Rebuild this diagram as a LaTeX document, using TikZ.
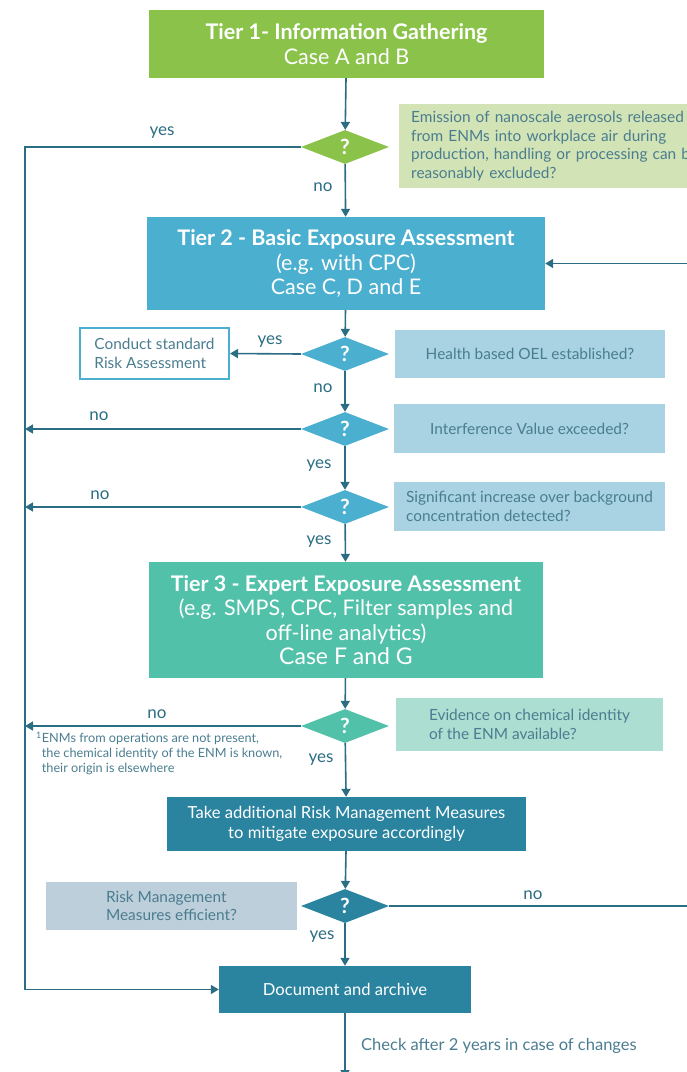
\documentclass[tikz,border=0pt]{standalone}
\usepackage{fontspec}
\setmainfont{Lato}
\usetikzlibrary{arrows.meta,shapes.geometric}
\definecolor{tiergreen}{HTML}{8BC34A}
\definecolor{tierblue}{HTML}{4BAFCF}
\definecolor{tierteal}{HTML}{52C1AA}
\definecolor{actionteal}{HTML}{2A84A0}
\definecolor{notegreen}{HTML}{D2E3B5}
\definecolor{noteblue}{HTML}{A9D2E2}
\definecolor{notemint}{HTML}{ACDED2}
\definecolor{notegrey}{HTML}{BDCFDB}
\definecolor{linecol}{HTML}{2B6D83}
\definecolor{notetext}{HTML}{4A7D90}

\begin{document}
\begin{tikzpicture}[x=1pt,y=-1pt,
  flow/.style={draw=linecol,line width=1.6pt},
  arr/.style={flow,-{Triangle[length=8pt,width=9pt]}},
  tierbox/.style={rectangle,inner sep=0pt,text=white,align=center,
    font=\fontsize{21.5}{24.5}\selectfont},
  actbox/.style={rectangle,inner sep=0pt,fill=actionteal,text=white,align=center,
    font=\fontsize{16.6}{20}\selectfont},
  quest/.style={diamond,aspect=2.6,minimum width=88pt,minimum height=34pt,
    inner sep=0pt,text=white,font=\fontsize{21}{21}\selectfont\bfseries},
  notebox/.style={rectangle,inner sep=0pt,text=notetext,align=left,
    font=\fontsize{15.4}{18.5}\selectfont},
  lbl/.style={text=linecol,inner sep=0pt,font=\fontsize{17}{17}\selectfont}]
  \useasboundingbox (0,0) rectangle (687,1072);
  \clip (0,0) rectangle (687,1072);

  \coordinate (railx) at (25,0);
  \coordinate (rightx) at (692,0);
  \coordinate (botend) at (345,1078);

  \node[tierbox,fill=tiergreen,minimum width=395pt,minimum height=68pt] (tierone) at (346.5,44)
    {\textbf{Tier 1- Information Gathering}\\Case A and B};
  \node[quest,fill=tiergreen] (qone) at (345,147) {?};
  \node[notebox,fill=notegreen,anchor=west,inner xsep=12pt,text width=300pt,minimum height=84pt] (noteone) at (399,146)
    {Emission of nanoscale aerosols released\\from ENMs into workplace air during\\production, handling or processing can be\\reasonably excluded?};

  \node[tierbox,fill=tierblue,minimum width=398pt,minimum height=93pt] (tiertwo) at (346,263.5)
    {\textbf{Tier 2 - Basic Exposure Assessment}\\(e.g. with CPC)\\Case C, D and E};
  \node[quest,fill=tierblue] (qtwo) at (345,354) {?};
  \node[notebox,fill=noteblue,minimum width=270pt,minimum height=48pt] (notetwo) at (530,354)
    {Health based OEL established?};
  \node[notebox,draw=tierblue,line width=2pt,fill=white,minimum width=149pt,minimum height=51pt] (conduct) at (154.5,353.5)
    {Conduct standard\\Risk Assessment};
  \node[quest,fill=tierblue] (qthree) at (345,429) {?};
  \node[notebox,fill=noteblue,minimum width=271pt,minimum height=49pt] (notethree) at (529.5,428.5)
    {Interference Value exceeded?};
  \node[quest,fill=tierblue] (qfour) at (345,507) {?};
  \node[notebox,fill=noteblue,minimum width=271pt,minimum height=49pt] (notefour) at (529.5,506.5)
    {Significant increase over background\\concentration detected?};

  \node[tierbox,fill=tierteal,minimum width=394pt,minimum height=116pt] (tierthree) at (346,620)
    {\textbf{Tier 3 - Expert Exposure Assessment}\\(e.g. SMPS, CPC, Filter samples and\\off-line analytics)\\{\fontsize{23}{24.5}\selectfont Case F and G}};
  \node[quest,fill=tierteal] (qfive) at (345,726) {?};
  \node[notebox,fill=notemint,minimum width=267pt,minimum height=53pt] (notefive) at (529.5,724.5)
    {Evidence on chemical identity\\of the ENM available?};
  \node[notebox,anchor=north west,fill=none,font=\fontsize{12.7}{15}\selectfont] (footnote) at (36,732)
    {\textsuperscript{1}ENMs from operations are not present,\\
     \hphantom{\textsuperscript{1}}the chemical identity of the ENM is known,\\
     \hphantom{\textsuperscript{1}}their origin is elsewhere};

  \node[actbox,minimum width=359pt,minimum height=54pt] (rmm) at (346.5,824)
    {Take additional Risk Management Measures\\to mitigate exposure accordingly};
  \node[quest,fill=actionteal] (qsix) at (345,906) {?};
  \node[notebox,fill=notegrey,minimum width=251pt,minimum height=48pt] (notesix) at (171.5,906)
    {Risk Management\\Measures efficient?};
  \node[actbox,minimum width=252pt,minimum height=47pt] (docarch) at (345,989.5)
    {Document and archive};
  \node[notebox,anchor=west,font=\fontsize{16.5}{18}\selectfont] (checklbl) at (361,1046)
    {Check after 2 years in case of changes};

  \draw[arr] (tierone) -- (qone);
  \draw[arr] (qone) -- (tiertwo);
  \draw[arr] (qone.west) -- (qone.west -| railx) |- (docarch.west);
  \draw[arr] (tiertwo) -- (qtwo);
  \draw[arr] (qtwo.west) -- (conduct.east);
  \draw[arr] (qtwo) -- (qthree);
  \draw[arr] (qthree.west) -- (qthree.west -| railx);
  \draw[arr] (qthree) -- (qfour);
  \draw[arr] (qfour.west) -- (qfour.west -| railx);
  \draw[arr] (qfour) -- (tierthree);
  \draw[arr] (tierthree) -- (qfive);
  \draw[arr] (qfive.west) -- (qfive.west -| railx);
  \draw[arr] (qfive) -- (rmm);
  \draw[arr] (rmm) -- (qsix);
  \draw[arr] (qsix.east) -- (qsix.east -| rightx) |- (tiertwo.east);
  \draw[arr] (qsix) -- (docarch);
  \draw[arr] (docarch) -- (botend);

  \node[lbl] (yesone) at (162,133) {yes};
  \node[lbl] (noone) at (323,187) {no};
  \node[lbl] (yestwo) at (270,342) {yes};
  \node[lbl] (notwo) at (323,388) {no};
  \node[lbl] (nothree) at (99,416) {no};
  \node[lbl] (yesthree) at (319,466) {yes};
  \node[lbl] (nofour) at (100,495) {no};
  \node[lbl] (yesfour) at (319,542) {yes};
  \node[lbl] (nofive) at (157,714) {no};
  \node[lbl] (yesfive) at (321,760) {yes};
  \node[lbl] (nosix) at (533,895) {no};
  \node[lbl] (yessix) at (322,937) {yes};
\end{tikzpicture}
\end{document}
